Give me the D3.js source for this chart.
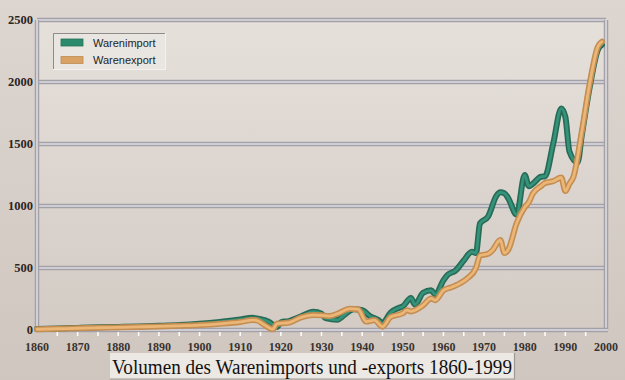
<!DOCTYPE html>
<html>
<head>
<meta charset="utf-8">
<script src="https://cdn.jsdelivr.net/npm/d3@7"></script>
<style>
html,body{margin:0;padding:0;background:#d6cec8;}
svg{display:block;}
</style>
</head>
<body>
<svg id="chart" width="625" height="380"></svg>
<script>
// ---- data ----
const importYears = [1860,1865,1870,1875,1880,1885,1890,1895,1900,1905,1910,1913,1915,1917,1919,1920,1922,1925,1928,1930,1931,1934,1935,1938,1940,1942,1944,1945,1947,1949,1950,1952,1953,1955,1957,1958,1960,1961,1963,1965,1967,1968,1969,1971,1973,1974,1975,1976,1978,1980,1981,1982,1984,1985,1987,1989,1990,1991,1993,1994,1996,1998,1999];
const importValues = [8,12,17,22,25,29,34,40,50,65,85,98,88,67,25,62,72,110,148,132,95,82,105,167,160,110,80,55,140,178,190,258,205,300,320,285,400,443,480,560,631,620,860,915,1080,1110,1103,1060,930,1250,1160,1180,1236,1240,1500,1787,1720,1440,1350,1560,1960,2260,2300];
const exportYears = [1860,1865,1870,1875,1880,1885,1890,1895,1900,1905,1910,1913,1914,1916,1918,1919,1922,1925,1928,1930,1932,1934,1937,1939,1941,1943,1945,1947,1950,1951,1952,1955,1957,1958,1960,1962,1964,1966,1968,1969,1971,1972,1974,1975,1976,1978,1980,1981,1982,1984,1985,1987,1989,1990,1991,1992,1994,1996,1998,1999];
const exportValues = [6,10,14,18,21,25,29,34,40,50,65,80,78,40,6,50,60,102,120,118,112,132,172,168,68,80,27,105,135,160,150,200,255,240,320,345,375,420,500,600,615,640,726,620,650,860,990,1030,1100,1160,1185,1200,1230,1120,1180,1236,1590,1990,2285,2325];
const yTicks = [0,500,1000,1500,2000,2500];
const xTickLabels = [1860,1870,1880,1890,1900,1910,1920,1930,1940,1950,1960,1970,1980,1990,2000];
const seriesNames = ["Warenimport","Warenexport"];
const titleText = "Volumen des Warenimports und -exports 1860-1999";

// ---- setup ----
const svg = d3.select("#chart");
const W = 625, H = 380;
const x = d3.scaleLinear().domain([1860,2000]).range([37,606]);
const y = d3.scaleLinear().domain([0,2500]).range([330,20]);

const defs = svg.append("defs");
const bgGrad = defs.append("linearGradient").attr("id","bg").attr("x1",0).attr("y1",0).attr("x2",0).attr("y2",1);
bgGrad.append("stop").attr("offset","0%").attr("stop-color","#ddd6d0");
bgGrad.append("stop").attr("offset","100%").attr("stop-color","#cfc6bf");
const plotGrad = defs.append("linearGradient").attr("id","plotbg").attr("x1",0).attr("y1",0).attr("x2",0).attr("y2",1);
plotGrad.append("stop").attr("offset","0%").attr("stop-color","#e6e0db");
plotGrad.append("stop").attr("offset","100%").attr("stop-color","#d3cbc4");

svg.append("rect").attr("width",W).attr("height",H).attr("fill","url(#bg)");
svg.append("rect").attr("x",x(1860)).attr("y",y(2500)).attr("width",x(2000)-x(1860)).attr("height",y(0)-y(2500)).attr("fill","url(#plotbg)");

// double-line helper
function dline(g, x1,y1,x2,y2){
  g.append("line").attr("x1",x1).attr("y1",y1).attr("x2",x2).attr("y2",y2).attr("stroke","#a3a0a8").attr("stroke-width",4.5);
  g.append("line").attr("x1",x1).attr("y1",y1).attr("x2",x2).attr("y2",y2).attr("stroke","#dedde3").attr("stroke-width",1.6);
}
const grid = svg.append("g");
yTicks.filter(v=>v>0).forEach(v=> dline(grid, x(1860), y(v), x(2000), y(v)));
dline(grid, x(1860), y(2500), x(1860), y(0));
dline(grid, x(2000), y(2500), x(2000), y(0));
dline(grid, x(1860)-2, y(0), x(2000)+2, y(0));

// minor ticks (white)
const tickYears = d3.range(1865, 2000, 5);
svg.append("g").selectAll("line").data(tickYears).join("line")
  .attr("x1",d=>x(d)).attr("x2",d=>x(d)).attr("y1",y(0)+2).attr("y2",y(0)+6)
  .attr("stroke","#ffffff").attr("stroke-width",1.5);

// y labels
svg.append("g").selectAll("text").data(yTicks).join("text")
  .attr("x",33).attr("y",d=>y(d)+4)
  .attr("text-anchor","end")
  .attr("font-family","Liberation Serif, serif").attr("font-weight","bold").attr("font-size",12.5)
  .attr("fill","#2b2623").text(d=>d);

// x labels
svg.append("g").selectAll("text").data(xTickLabels).join("text")
  .attr("x",d=>x(d)).attr("y",351)
  .attr("text-anchor","middle")
  .attr("font-family","Liberation Serif, serif").attr("font-weight","bold").attr("font-size",12)
  .attr("fill","#3a3430").text(d=>d);

// lines
const line = d3.line().x(d=>x(d[0])).y(d=>y(d[1])).curve(d3.curveMonotoneX);
const impData = importYears.map((yr,i)=>[yr, importValues[i]]);
const expData = exportYears.map((yr,i)=>[yr, exportValues[i]]);
function drawSeries(data, outer, inner){
  svg.append("path").datum(data).attr("d",line).attr("fill","none")
    .attr("stroke",outer).attr("stroke-width",6).attr("stroke-linejoin","round").attr("stroke-linecap","round");
  svg.append("path").datum(data).attr("d",line).attr("fill","none")
    .attr("stroke",inner).attr("stroke-width",2.8).attr("stroke-linejoin","round").attr("stroke-linecap","round");
}
drawSeries(impData, "#276a55", "#34937a");
drawSeries(expData, "#c48d52", "#ebb676");

// legend
const lg = svg.append("g");
lg.append("rect").attr("x",53).attr("y",33).attr("width",112).attr("height",36).attr("fill","#e9e5e0");
lg.append("path").attr("d","M53.5,69 V33.5 H165").attr("fill","none").attr("stroke","#8f8b88").attr("stroke-width",1);
lg.append("path").attr("d","M165.5,33 V69.5 H53").attr("fill","none").attr("stroke","#f3f1ee").attr("stroke-width",1);
const swColors = ["#2c8a6c","#d7a264"];
const swEdge = ["#24735a","#c08c52"];
seriesNames.forEach((n,i)=>{
  const yy = 39 + i*17.5;
  lg.append("rect").attr("x",61).attr("y",yy).attr("width",22).attr("height",7)
    .attr("fill",swColors[i]).attr("stroke",swEdge[i]).attr("stroke-width",0.8);
  lg.append("text").attr("x",93).attr("y",yy+7.5)
    .attr("font-family","Liberation Sans, Arial, sans-serif").attr("font-size",11)
    .attr("fill","#1e1e1e").text(n);
});

// title box
const tb = svg.append("g");
tb.append("rect").attr("x",110).attr("y",353).attr("width",405).attr("height",26)
  .attr("fill","#ece8e3");
tb.append("path").attr("d","M514.5,353 V379 H110").attr("fill","none").attr("stroke","#9d9893").attr("stroke-width",1.2);
tb.append("text").attr("x",112).attr("y",373.5)
  .attr("font-family","Liberation Serif, Times New Roman, serif").attr("font-size",20.5)
  .attr("textLength",400).attr("lengthAdjust","spacingAndGlyphs")
  .attr("fill","#111").text(titleText);
</script>
</body>
</html>
